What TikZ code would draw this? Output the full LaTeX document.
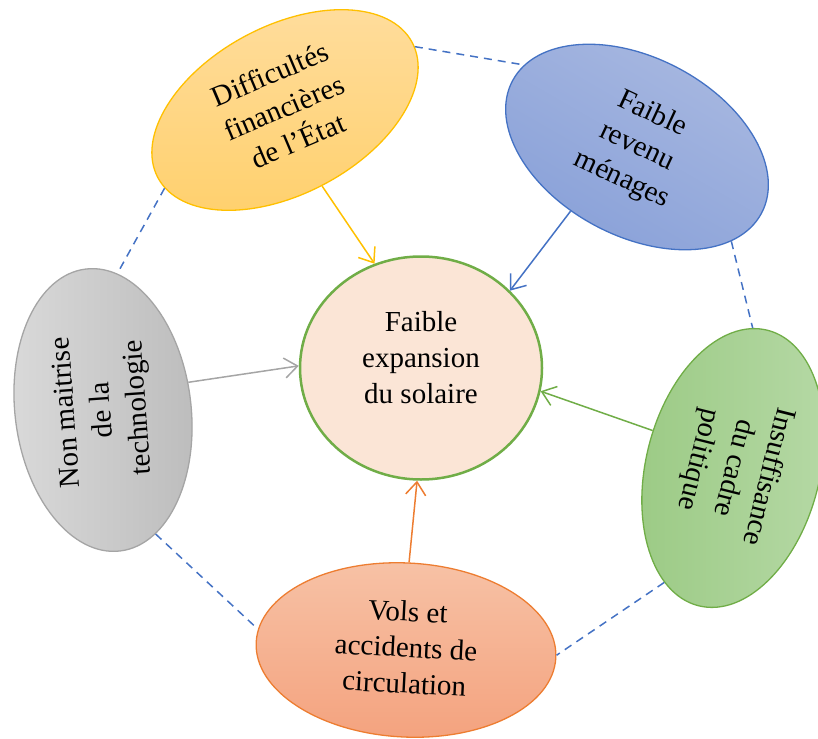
\documentclass[tikz,border=0pt]{standalone}
\usepackage{fontspec}
\setmainfont{Liberation Serif}
\usetikzlibrary{shapes.geometric,arrows.meta}
\definecolor{ctrfill}{HTML}{FBE5D6}
\definecolor{grnline}{HTML}{70AD47}
\definecolor{ylline}{HTML}{FFC000}
\definecolor{yltop}{HTML}{FFDD9E}
\definecolor{ylbot}{HTML}{FFD06C}
\definecolor{blline}{HTML}{4472C4}
\definecolor{bltop}{HTML}{A9B9E1}
\definecolor{blbot}{HTML}{88A0D8}
\definecolor{gyline}{HTML}{A5A5A5}
\definecolor{gyleft}{HTML}{DADADA}
\definecolor{gyright}{HTML}{BCBCBC}
\definecolor{gnleft}{HTML}{9BCA84}
\definecolor{gnright}{HTML}{B6D9A6}
\definecolor{orline}{HTML}{ED7D31}
\definecolor{ortop}{HTML}{F7C2A6}
\definecolor{orbot}{HTML}{F4A37F}
\definecolor{dashblue}{HTML}{4472C4}
\begin{document}
\begin{tikzpicture}[x=1pt,y=-1pt,
  bub/.style={ellipse, inner sep=0pt, align=center, font=\fontsize{29}{36}\selectfont, line width=1.3pt},
  conn/.style={line width=1.5pt, -{Straight Barb[length=13pt,width=20pt]}},
  dsh/.style={draw=dashblue, line width=1.5pt, dash pattern=on 8pt off 6pt}]
\useasboundingbox (0,0) rectangle (818,738);

\node[bub, draw=grnline, fill=ctrfill, line width=2.5pt, minimum width=242pt, minimum height=223pt] (ctr) at (421,368)
  {\raisebox{1pt}[0pt][0pt]{\begin{tabular}{@{}c@{}}Faible\\expansion\\du solaire\end{tabular}}};

\node[bub, draw=ylline, top color=yltop, bottom color=ylbot, rotate=28, minimum width=288pt, minimum height=165pt] (fin) at (285,110)
  {\rotatebox{-5}{\begin{tabular}{@{}c@{}}Difficultés\\financières\\de l’État\end{tabular}}};

\node[bub, draw=blline, shading=axis, top color=bltop, bottom color=blbot, shading angle=-30, rotate=-28, minimum width=282pt, minimum height=178pt] (rev) at (637,147)
  {\rotatebox{3}{\begin{tabular}{@{}c@{}}Faible\\revenu\\ménages\end{tabular}}};

\node[bub, draw=gyline, left color=gyleft, right color=gyright, rotate=97, minimum width=284pt, minimum height=176pt] (tech) at (103,410)
  {\rotatebox{-3}{\begin{tabular}{@{}c@{}}Non maitrise\\de la\\technologie\end{tabular}}};

\node[bub, draw=grnline, left color=gnleft, right color=gnright, rotate=-104, minimum width=284pt, minimum height=174pt] (pol) at (733,468)
  {\begin{tabular}{@{}c@{}}Insuffisance\\du cadre\\politique\end{tabular}};

\node[bub, draw=orline, top color=ortop, bottom color=orbot, rotate=-3, minimum width=300pt, minimum height=174pt] (vol) at (406,650)
  {\begin{tabular}{@{}c@{}}Vols et\\accidents de\\circulation\end{tabular}};

\draw[conn, draw=ylline] (fin.-92) -- (ctr.114.7);
\draw[conn, draw=blline] (rev.252.1) -- (ctr.41.1);
\draw[conn, draw=gyline] (tech.-79.4) -- (ctr.179);
\draw[conn, draw=grnline] (pol.259.8) -- (ctr.-11.9);
\draw[conn, draw=orline] (vol.91.7) -- (ctr.-92.5);

\draw[dsh] (fin.-2) -- (rev.172.6);
\draw[dsh] (fin.185.2) -- (tech.-13.9);
\draw[dsh] (rev.-17.9) -- (pol.186.2);
\draw[dsh] (tech.-164.8) -- (vol.175.4);
\draw[dsh] (pol.343.8) -- (vol.1.1);
\end{tikzpicture}
\end{document}
